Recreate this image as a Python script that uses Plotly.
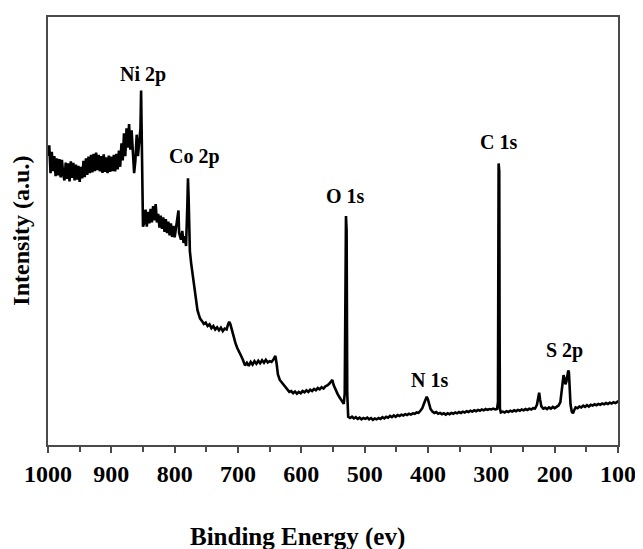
import plotly.graph_objects as go

energy = [1000, 998, 996, 994, 992, 990, 988, 986, 984, 982, 980, 978, 976, 974, 972, 970, 968, 966, 964, 962,
          960, 958, 956, 954, 952, 950, 948, 946, 944, 942, 940, 938, 936, 934, 932, 930, 928, 926, 924, 922,
          920, 918, 916, 914, 912, 910, 908, 906, 904, 902, 900, 898, 896, 894, 892, 890, 888, 886, 884, 882,
          880, 878, 876, 874, 872, 870, 868, 866, 864, 862, 860, 858, 856, 854, 853, 852, 851, 850, 848, 846,
          844, 842, 840, 838, 836, 834, 832, 830, 828, 826, 824, 822, 820, 818, 816, 814, 812, 810, 808, 806,
          804, 802, 800, 798, 796, 794, 793, 790, 788, 786, 784, 782, 780, 779, 778, 777, 776, 774, 772, 770,
          768, 766, 764, 762, 760, 757, 754, 751, 748, 745, 742, 739, 736, 733, 730, 727, 724, 721, 718, 716,
          714, 712, 710, 707, 704, 701, 698, 695, 692, 689, 686, 683, 680, 677, 674, 671, 668, 665, 662, 659,
          656, 653, 650, 647, 644, 641, 639, 637, 634, 631, 628, 625, 622, 619, 616, 613, 610, 607, 604, 601,
          598, 595, 592, 589, 586, 583, 580, 577, 574, 571, 568, 565, 562, 559, 556, 553, 551, 549, 546, 543,
          540, 537, 535, 533, 531.5, 530.5, 529.5, 528.5, 527.5, 526, 523, 520, 517, 514, 511, 508, 505, 502, 499,
          496, 493, 490, 487, 484, 481, 478, 475, 472, 469, 466, 463, 460, 457, 454, 451, 448, 445, 442, 439,
          436, 433, 430, 427, 424, 421, 418, 415, 412, 409, 406, 404, 402, 400, 398, 396, 393, 390, 387, 384,
          381, 378, 375, 372, 369, 366, 363, 360, 357, 354, 351, 348, 345, 342, 339, 336, 333, 330, 327, 324,
          321, 318, 315, 312, 309, 306, 303, 300, 297, 294, 291, 289.5, 289, 288.5, 287.5, 287, 286.5, 285, 282, 279,
          276, 273, 270, 267, 264, 261, 258, 255, 252, 249, 246, 243, 240, 237, 234, 231, 228, 226, 224.5, 223,
          221, 218, 215, 212, 209, 206, 203, 200, 197, 194, 191, 189, 187.5, 186, 184.5, 183, 181.5, 180, 178.5, 177.5,
          176.5, 175, 173, 171, 169, 167, 164, 161, 158, 155, 152, 149, 146, 143, 140, 137, 134, 131, 128, 125,
          122, 119, 116, 113, 110, 107, 104, 101, 100]

intensity = [67.5, 70.0, 63.5, 68.5, 64.0, 67.5, 62.8, 67.0, 63.0, 66.8, 62.5, 66.6, 63.2, 61.8, 66.0, 62.2, 65.8, 61.6, 66.3, 62.4,
             65.9, 61.8, 65.5, 62.0, 65.2, 61.5, 65.0, 62.3, 66.4, 62.6, 67.0, 63.1, 67.4, 63.5, 67.8, 63.7, 68.0, 64.0, 68.3, 64.2,
             67.8, 63.9, 67.5, 63.6, 67.9, 63.8, 67.2, 63.5, 67.6, 63.8, 67.4, 64.0, 67.8, 63.9, 68.0, 64.4, 68.8, 65.0, 70.5, 66.5,
             72.8, 67.5, 74.0, 69.5, 75.0, 69.0, 73.5, 66.5, 63.5, 66.5, 72.5, 67.5, 71.0, 74.0, 82.8, 70.0, 56.0, 51.0, 52.0, 55.0,
             51.0, 54.5, 51.8, 55.2, 52.0, 55.8, 52.5, 56.3, 52.0, 54.0, 50.8, 53.6, 50.5, 53.2, 49.8, 52.8, 49.5, 52.2, 49.0, 51.8,
             48.6, 51.2, 48.5, 50.8, 53.5, 54.8, 49.5, 48.0, 50.0, 47.2, 48.8, 46.5, 56.0, 62.3, 58.0, 50.0, 45.3, 42.5, 40.0, 38.0,
             36.5, 34.0, 31.5, 30.5, 29.6, 29.0, 28.3, 28.6, 27.8, 28.2, 27.3, 27.8, 27.0, 27.5, 26.8, 27.4, 26.6, 27.2, 27.0, 28.0,
             28.8, 28.2, 27.0, 25.6, 23.8, 22.6, 21.8, 20.8, 19.8, 18.6, 19.2, 18.5, 19.4, 18.8, 19.6, 19.0, 19.7, 19.1, 19.8, 19.2,
             19.9, 19.3, 19.6, 19.4, 20.0, 20.8, 19.0, 16.5, 15.2, 14.6, 14.1, 13.4, 12.9, 12.4, 12.6, 12.1, 12.5, 12.0, 12.4, 12.1,
             12.6, 12.3, 12.8, 12.4, 12.9, 12.6, 13.1, 12.8, 13.3, 13.0, 13.5, 13.2, 13.7, 13.9, 14.3, 14.7, 15.2, 14.0, 12.8, 12.0,
             11.2, 10.4, 9.8, 9.6, 12.0, 50.0, 53.5, 50.0, 12.0, 6.6, 6.3, 6.6, 6.2, 6.5, 6.1, 6.4, 6.0, 6.3, 6.1,
             6.4, 6.0, 6.3, 5.9, 6.2, 6.0, 6.3, 6.1, 6.5, 6.2, 6.6, 6.4, 6.8, 6.5, 6.9, 6.6, 7.0, 6.8, 7.1, 6.9,
             7.2, 7.0, 7.3, 7.1, 7.4, 7.3, 7.6, 7.5, 8.0, 8.6, 9.8, 10.8, 11.3, 10.6, 9.4, 8.4, 7.8, 7.5, 7.7, 7.3,
             7.5, 7.2, 7.4, 7.1, 7.4, 7.2, 7.5, 7.3, 7.6, 7.4, 7.7, 7.5, 7.8, 7.6, 7.9, 7.7, 8.0, 7.8, 8.1, 7.9,
             8.2, 8.0, 8.3, 8.1, 8.4, 8.2, 8.4, 8.3, 8.5, 8.3, 8.4, 10.0, 40.0, 65.8, 64.0, 30.0, 8.5, 7.6, 7.8, 7.6,
             7.9, 7.7, 8.0, 7.8, 8.1, 7.9, 8.2, 8.0, 8.3, 8.1, 8.4, 8.2, 8.5, 8.3, 8.6, 8.5, 9.4, 11.0, 12.2, 10.6,
             9.0, 8.5, 8.7, 8.4, 8.8, 8.5, 8.9, 8.6, 9.0, 9.2, 10.0, 12.5, 15.5, 16.3, 15.6, 14.2, 14.8, 16.6, 17.4, 17.0,
             13.0, 9.5, 7.8, 7.4, 8.2, 8.8, 8.6, 9.0, 8.8, 9.2, 8.9, 9.3, 9.0, 9.4, 9.2, 9.5, 9.3, 9.6, 9.4, 9.7,
             9.5, 9.8, 9.6, 9.9, 9.7, 10.0, 9.8, 10.1, 9.9]

peak_labels = ["Ni 2p", "Co 2p", "O 1s", "N 1s", "C 1s", "S 2p"]
peak_label_x = [850, 768, 530.5, 398, 288, 185]
peak_label_y = [86.5, 67.4, 58.1, 15.1, 70.9, 22.1]

x_tick_vals = [1000, 900, 800, 700, 600, 500, 400, 300, 200, 100]
x_tick_text = ["1000", "900", "800", "700", "600", "500", "400", "300", "200", "100"]

SERIF = "Liberation Serif, Times New Roman, serif"

fig = go.Figure()
fig.add_trace(go.Scatter(x=energy, y=intensity, mode="lines",
                         line=dict(color="black", width=2.6), showlegend=False))

for t, xv, yv in zip(peak_labels, peak_label_x, peak_label_y):
    fig.add_annotation(x=xv, y=yv, text=t, showarrow=False, xref="x", yref="y",
                       font=dict(family=SERIF, size=20, color="black", weight="bold"))

fig.add_annotation(x=0.437, y=-0.214, xref="paper", yref="paper", text="Binding Energy (ev)",
                   showarrow=False, xanchor="center", yanchor="middle",
                   font=dict(family=SERIF, size=25, color="black", weight="bold"))
fig.add_annotation(x=-0.048, y=0.5, xref="paper", yref="paper", text="Intensity (a.u.)",
                   showarrow=False, textangle=-90, xanchor="center", yanchor="middle",
                   font=dict(family=SERIF, size=24, color="black", weight="bold"))

fig.update_layout(
    width=635, height=541,
    margin=dict(l=40, r=16, t=7, b=104),
    paper_bgcolor="white", plot_bgcolor="white",
    xaxis=dict(range=[1000, 100], tickvals=x_tick_vals, ticktext=x_tick_text,
               showgrid=False, zeroline=False, showline=True, mirror=True,
               linecolor="#4a4a4a", linewidth=2, ticks="outside", ticklen=6, tickwidth=2,
               tickcolor="#4a4a4a", ticklabeloverflow="allow",
               minor=dict(dtick=50, tick0=0, ticks="outside", ticklen=5, tickwidth=2, tickcolor="#4a4a4a"),
               tickfont=dict(family=SERIF, size=24, color="black", weight="bold")),
    yaxis=dict(range=[0, 100], showgrid=False, zeroline=False, showline=True, mirror=True,
               linecolor="#4a4a4a", linewidth=2, showticklabels=False, ticks=""),
)

fig.write_html("out.html")
